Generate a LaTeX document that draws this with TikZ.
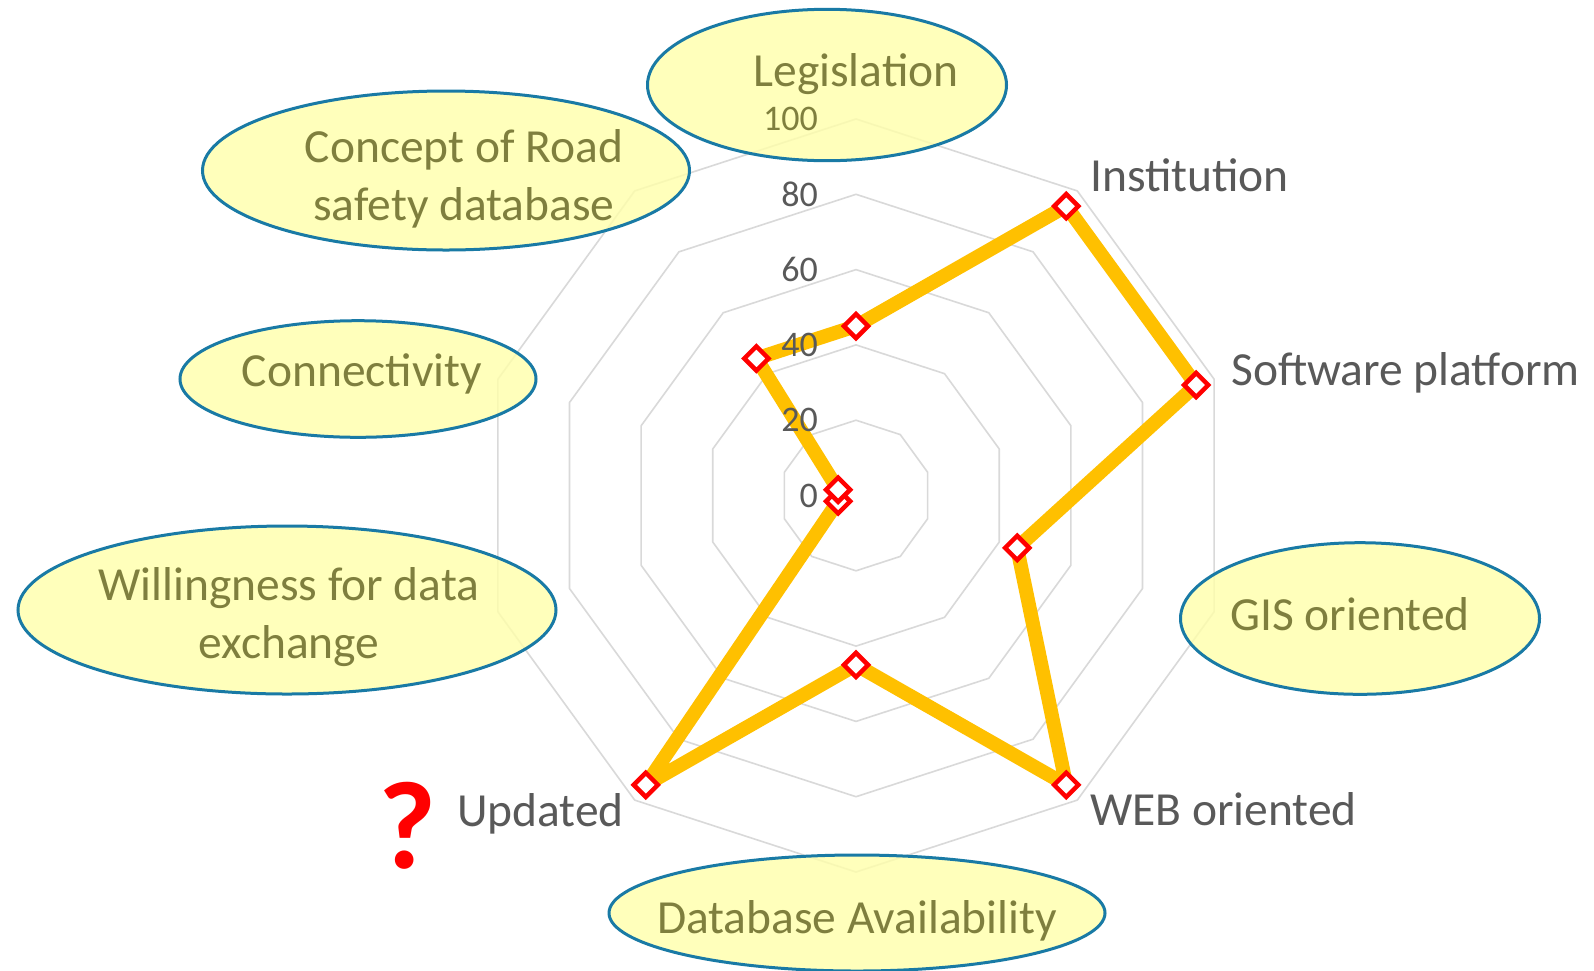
\documentclass[tikz,border=0pt]{standalone}
\usepackage{fontspec}
\setmainfont{Carlito}
\usetikzlibrary{shapes.geometric}
\definecolor{gridgray}{RGB}{217,217,217}
\definecolor{labgray}{RGB}{89,89,89}
\definecolor{olivetxt}{RGB}{127,127,62}
\definecolor{bubblefill}{RGB}{255,255,170}
\definecolor{bubbleedge}{RGB}{25,122,165}
\definecolor{serieso}{RGB}{255,192,0}
\definecolor{markred}{RGB}{255,0,0}
\begin{document}
\begin{tikzpicture}[x=1pt,y=-1pt,
  ring/.style={draw=gridgray, line width=1.6pt, line join=round},
  series/.style={draw=serieso, line width=14pt, line join=round},
  datamark/.style={diamond, draw=markred, fill=white, line width=4.5pt, minimum width=26pt, minimum height=26pt, inner sep=0pt},
  bubble/.style={ellipse, draw=bubbleedge, line width=3pt, fill=bubblefill, fill opacity=0.8, inner sep=0pt},
  cattext/.style={font=\fontsize{47.5}{57.3}\selectfont, text=olivetxt, inner sep=0pt, align=center},
  outtext/.style={font=\fontsize{47.5}{57.3}\selectfont, text=labgray, inner sep=0pt},
  axtext/.style={font=\fontsize{36}{43}\selectfont, text=labgray, inner sep=0pt, anchor=east},
]
\useasboundingbox (0,0) rectangle (1594,970);
\fill[white] (0,0) rectangle (1594,970);
\coordinate (O) at (856,495.5);
% grid rings
\foreach \n in {1,...,5} {
  \draw[ring] (856, {495.5-75.3*\n})
    \foreach \k in {1,...,9} { -- ({856+75.3*\n*sin(36*\k)}, {495.5-75.3*\n*cos(36*\k)}) } -- cycle;
}
% data points
\foreach \v [count=\i from 0] in {45,95,95,45,95,45,95,5,5,45}
  \coordinate (p\i) at ({856+3.765*\v*sin(36*\i)}, {495.5-3.765*\v*cos(36*\i)});
\draw[series] (p0) -- (p1) -- (p2) -- (p3) -- (p4) -- (p5) -- (p6) -- (p7) -- (p8) -- (p9) -- cycle;
\foreach \i in {0,...,9} \node[datamark] (m\i) at (p\i) {};
% axis labels
\foreach \n/\lab in {0/0,1/20,2/40,3/60,4/80}
  \node[axtext] (ax\n) at (818, {495.5-75.3*\n}) {\lab};
% bubbles
\node[bubble, minimum width=359pt, minimum height=151.4pt] (eLeg) at (827,85) {};
\node[bubble, minimum width=487pt, minimum height=159pt] (eCon) at (446,170.5) {};
\node[bubble, minimum width=356pt, minimum height=116.6pt] (eConn) at (358,379) {};
\node[bubble, minimum width=538pt, minimum height=168pt] (eWil) at (287,610) {};
\node[bubble, minimum width=359pt, minimum height=151.6pt] (eGIS) at (1360,618.5) {};
\node[bubble, minimum width=496pt, minimum height=116pt] (eDB) at (857,913) {};
% texts inside bubbles
\node[axtext, text=olivetxt] (ax5) at (818,119) {100};
\node[cattext, anchor=base] (tLeg) at (856,86) {Legislation};
\node[cattext, anchor=base] (tCon) at (464,220) {Concept of Road\\safety database};
\node[cattext, anchor=base] (tConn) at (362,386.7) {Connectivity};
\node[cattext, anchor=base] (tWil) at (289,658) {Willingness for data\\exchange};
\node[cattext, anchor=base] (tGIS) at (1350,630.7) {GIS oriented};
\node[cattext, anchor=base] (tDB) at (857,933) {Database Availability};
% outside labels
\node[outtext, anchor=base west] (tIns) at (1090,191.7) {Institution};
\node[outtext, anchor=base west] (tSoft) at (1231,385) {Software platform};
\node[outtext, anchor=base west] (tWeb) at (1090,825) {WEB oriented};
\node[outtext, anchor=base east] (tUpd) at (624,826) {Updated};
\node[font=\fontsize{125}{135}\selectfont\bfseries, text=markred, inner sep=0pt, anchor=base] (qm) at (407,868) {?};
\end{tikzpicture}
\end{document}
